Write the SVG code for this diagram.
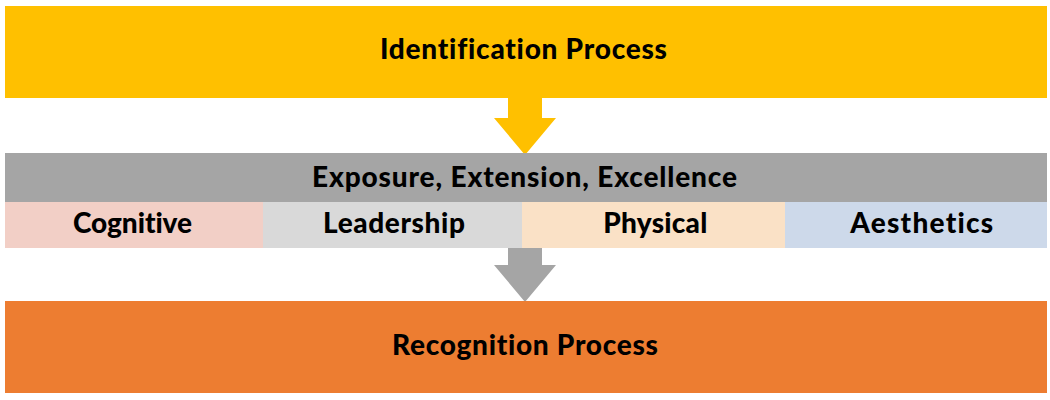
<svg xmlns="http://www.w3.org/2000/svg" width="1050" height="400" viewBox="0 0 1050 400">
<style>
text{font-family:Lato,"Open Sans","Liberation Sans",sans-serif;font-weight:900;fill:#000;text-anchor:middle;font-size:28px;font-variant-ligatures:none}
</style>
<rect width="1050" height="400" fill="#fff"/>
<g id="identification">
<rect x="5" y="6" width="1042" height="92" fill="#FFC000"/>
<text x="523.5" y="58.5" textLength="287" lengthAdjust="spacing">Identification Process</text>
</g>
<g id="connectors">
<polygon points="508,98 542,98 542,118 556,118 525,155 494,118 508,118" fill="#FFC000"/>
<polygon points="508,248 542,248 542,265 556,265 525,302 494,265 508,265" fill="#A5A5A5"/>
</g>
<g id="pillars">
<rect x="5" y="153" width="1042" height="49" fill="#A5A5A5"/>
<text x="524.5" y="186.5" textLength="425" lengthAdjust="spacing">Exposure, Extension, Excellence</text>
</g>
<g id="cognitive">
<rect x="5" y="202" width="258" height="46" fill="#F2CFC6"/>
<text x="132.5" y="232.5" textLength="119" lengthAdjust="spacing">Cognitive</text>
</g>
<g id="leadership">
<rect x="263" y="202" width="259" height="46" fill="#D9D9D9"/>
<text x="394" y="232.5" textLength="142" lengthAdjust="spacing">Leadership</text>
</g>
<g id="physical">
<rect x="522" y="202" width="263" height="46" fill="#FAE1C6"/>
<text x="655.3" y="232.5" textLength="104" lengthAdjust="spacing">Physical</text>
</g>
<g id="aesthetics">
<rect x="785" y="202" width="262" height="46" fill="#CDD9EA"/>
<text x="921.7" y="232.5" textLength="143" lengthAdjust="spacing">Aesthetics</text>
</g>
<g id="recognition">
<rect x="5" y="301" width="1042" height="92" fill="#ED7D31"/>
<text x="525" y="355" textLength="266" lengthAdjust="spacing">Recognition Process</text>
</g>
</svg>
